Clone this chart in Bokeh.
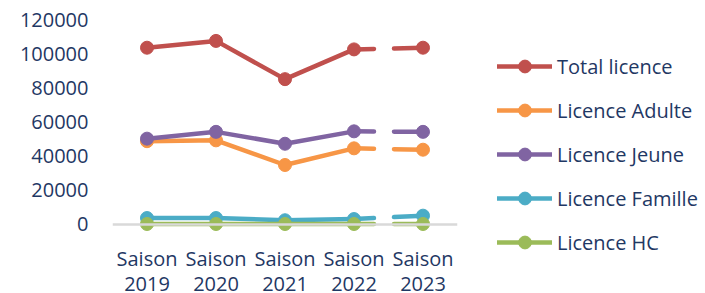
from bokeh.plotting import figure
from bokeh.models import (Range1d, FixedTicker, Span, Legend, LegendItem,
                          BasicTickFormatter, ColumnDataSource)
from bokeh.embed import file_html
from bokeh.resources import INLINE

seasons = ["Saison\n2019", "Saison\n2020", "Saison\n2021", "Saison\n2022", "Saison\n2023"]
series_names = ["Total licence", "Licence Adulte", "Licence Jeune", "Licence Famille", "Licence HC"]
total = [104000, 108000, 85500, 103000, 104000]
adulte = [49000, 49500, 35000, 44800, 44000]
jeune = [50500, 54500, 47500, 54800, 54500]
famille = [3800, 3800, 2500, 3200, 5200]
hc = [300, 300, 300, 300, 300]
values = [total, adulte, jeune, famille, hc]
colors = ["#C0504D", "#F79646", "#8064A2", "#4BACC6", "#9BBB59"]
y_ticks = [0, 20000, 40000, 60000, 80000, 100000, 120000]

TEXT = "#1F3864"
FONT = "Open Sans"

p = figure(x_range=seasons, y_range=Range1d(-7059, 125882),
           frame_width=345, frame_height=226,
           output_backend="svg", toolbar_location=None,
           min_border_left=112, min_border_right=0, min_border_top=10, min_border_bottom=0)
p.outline_line_color = None
p.xgrid.grid_line_color = None
p.ygrid.grid_line_color = None
p.background_fill_color = "white"

for ax in (p.xaxis[0], p.yaxis[0]):
    ax.axis_line_color = None
    ax.major_tick_line_color = None
    ax.minor_tick_line_color = None
    ax.major_tick_out = 0
    ax.major_tick_in = 0
    ax.major_label_text_font = FONT
    ax.major_label_text_font_size = "20px"
    ax.major_label_text_color = TEXT

p.yaxis.ticker = FixedTicker(ticks=y_ticks)
p.yaxis.formatter = BasicTickFormatter(use_scientific=False)
p.yaxis.major_label_standoff = 24
p.xaxis.major_label_standoff = 8
p.xaxis.major_label_text_line_height = 0.95

p.add_layout(Span(location=0, dimension="width", line_color="#D9D9D9", line_width=2.5))

items = []
for name, vals, c in zip(series_names, values, colors):
    solid = ColumnDataSource(dict(x=seasons[:4], y=vals[:4]))
    dashed = ColumnDataSource(dict(x=seasons[3:], y=vals[3:]))
    allp = ColumnDataSource(dict(x=seasons, y=vals))
    lr = p.line("x", "y", source=solid, line_color=c, line_width=4.5, line_cap="round", line_join="round")
    p.line("x", "y", source=dashed, line_color=c, line_width=4.5, line_cap="round",
           line_dash="20 20 32 20")
    sr = p.scatter("x", "y", source=allp, size=13, fill_color=c, line_color=c)
    items.append(LegendItem(label=name, renderers=[lr, sr]))

legend = Legend(items=items, location=(40, -22), border_line_color=None,
                background_fill_alpha=0, margin=0, padding=0,
                glyph_width=55, glyph_height=32, label_standoff=5, spacing=12,
                label_text_font=FONT, label_text_font_size="20px", label_text_color=TEXT)
p.add_layout(legend, "right")

open("out.html", "w").write(file_html(p, INLINE))
